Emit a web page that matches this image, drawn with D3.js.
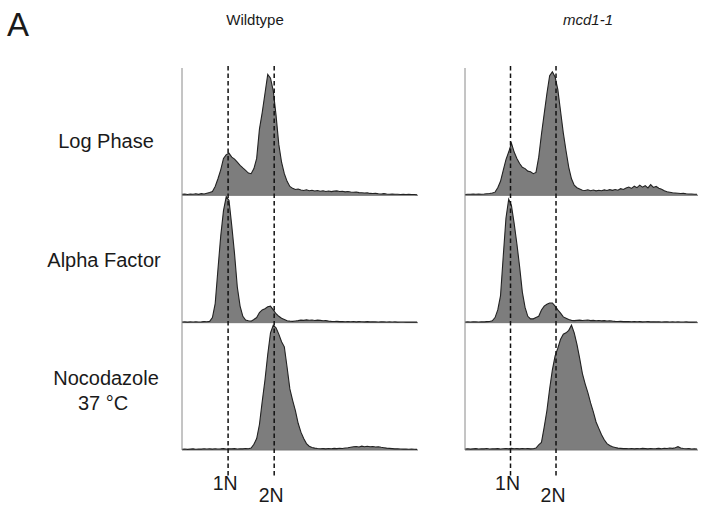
<!DOCTYPE html>
<html>
<head>
<meta charset="utf-8">
<script src="https://cdn.jsdelivr.net/npm/d3@7"></script>
<style>
  body { margin: 0; background: #fff; }
  svg { display: block; }
  text { font-family: "Liberation Sans", Arial, sans-serif; fill: #1a1a1a; }
</style>
</head>
<body>
<div id="chart"></div>
<script>
// DNA content channels (bins), 0..255 step 3
const channels = d3.range(0, 256, 3);
const rows = ["Log Phase", "Alpha Factor", "Nocodazole"];
const strains = ["Wildtype", "mcd1-1"];
const ploidy = ["1N", "2N"];
const ploidyChannel = [50, 100];

// cell counts (% of panel max) per bin
const wtLog = [0.8,1.0,0.7,1.1,0.9,1.2,0.8,1.3,1.0,1.6,
  2.2,3,7,13,20,29,32,33,30,28.5,
  26,23.5,21.5,19.6,17.5,17,21,29,52,65,
  80,95,92,82,63,40,26,17,11,7,
  5.5,4.6,5,4.2,3.8,4.4,3.6,4.0,3.4,3.8,
  3.2,3.6,3.0,3.4,2.9,3.3,3.5,3.0,3.2,2.7,
  3.0,2.6,2.4,2.6,2.1,2.0,1.8,1.9,1.5,1.4,
  1.5,1.2,1.1,1.3,1.0,0.9,1.1,0.8,0.9,0.7,
  0.8,0.6,0.8,0.6,0.7,0.5];
const wtAlpha = [0.5,0.6,0.4,0.6,0.5,0.7,0.5,0.6,0.8,0.7,
  1.0,4,15,42,68,88,99,96,76,54,
  28,13,5,2,1.5,1.2,2.5,4,8,10,
  11,12.5,13,10,7,5,3.5,2.5,1.5,1.2,
  1.0,1.3,1.6,2.0,1.8,2.2,1.9,2.1,1.7,2.0,
  1.8,1.5,1.6,1.2,1.0,0.9,1.0,0.8,0.9,0.7,
  0.8,0.7,0.9,0.6,0.8,0.7,0.6,0.8,0.6,0.7,
  0.6,0.5,0.7,0.6,0.5,0.6,0.5,0.6,0.4,0.5,
  0.5,0.4,0.5,0.4,0.5,0.4];
const wtNoco = [0.6,0.8,0.5,0.7,0.9,0.6,0.8,0.7,1.0,0.8,
  0.9,0.7,1.0,0.8,0.9,1.1,0.8,1.0,0.9,1.1,
  0.8,1.0,0.9,1.2,1.0,1.5,4.5,9,20,38,
  55,75,92,98,96,91,85,81,65,48,
  39,31,21,14,9,5,3,2,1.5,1.2,
  1.0,1.1,0.9,1.2,1.0,1.3,1.1,1.4,1.2,1.6,
  1.8,2.2,2.5,2.8,2.4,3.0,2.6,2.9,2.5,2.7,
  2.4,2.6,2.1,1.8,1.5,1.3,1.1,0.9,1.0,0.8,
  0.7,0.8,0.6,0.7,0.6,0.5];
const mcdLog = [0.7,0.9,0.8,1.0,0.8,1.1,0.9,1.0,1.2,1.4,
  1.8,2.5,6,11,19.6,28,34,41,34,29,
  25,22,21,19,18.5,17,18,30,48,64,
  80,94,97,93,83,66,49,35,22,13,
  8,6,5,4,3.8,4.4,3.6,4.2,3.5,4.0,
  3.6,4.3,3.8,4.5,3.9,4.6,4.0,5.2,4.6,5.8,
  6.5,5.4,7.2,6.0,8.0,6.4,7.6,5.8,8.4,6.2,
  7.0,5.6,4.8,3.6,2.8,2.4,2.0,1.8,1.6,1.4,
  1.5,1.2,1.1,1.0,0.9,0.8];
const mcdAlpha = [0.5,0.6,0.5,0.7,0.6,0.5,0.7,0.6,0.8,0.9,
  1.5,4,10,21,52,82,97,92,78,62,
  44,24,12,5,3,3,4,5,10,13,
  14.5,15.5,15.5,13,10,7.5,4.5,3.5,2.5,1.8,
  1.6,1.8,2.0,1.7,1.9,2.1,1.6,1.8,1.5,1.7,
  1.4,1.6,1.3,1.5,1.2,1.0,0.9,1.0,0.8,0.9,
  0.8,0.7,0.9,0.7,0.8,0.6,0.7,0.8,0.6,0.7,
  0.6,0.7,0.5,0.6,0.7,0.5,0.6,0.5,0.6,0.5,
  0.5,0.6,0.4,0.5,0.4,0.5];
const mcdNoco = [0.8,1.0,0.7,0.9,1.1,0.8,1.0,0.9,1.2,0.8,
  1.0,0.9,1.1,0.8,1.0,1.2,0.9,1.3,1.0,1.1,
  0.9,1.2,1.0,1.1,0.9,1.0,1.5,4,6,18,
  31,48,63,74,80,87,91,92,94,98,
  92,83,72,60,52,45,37,30,22,17,
  12,8,5,3.5,2.5,2.0,1.5,1.3,1.1,1.2,
  1.0,1.2,0.9,1.1,1.0,1.3,1.1,0.9,1.2,1.0,
  1.1,1.3,1.0,1.4,1.2,1.6,1.3,1.8,2.6,1.5,
  1.2,1.0,1.1,0.8,0.9,0.8];

const panels = [
  {strain: "Wildtype", row: "Log Phase", values: wtLog},
  {strain: "Wildtype", row: "Alpha Factor", values: wtAlpha},
  {strain: "Wildtype", row: "Nocodazole", values: wtNoco},
  {strain: "mcd1-1", row: "Log Phase", values: mcdLog},
  {strain: "mcd1-1", row: "Alpha Factor", values: mcdAlpha},
  {strain: "mcd1-1", row: "Nocodazole", values: mcdNoco}
];

const width = 709, height = 508;
const svg = d3.select("#chart").append("svg")
  .attr("width", width)
  .attr("height", height);

// column extents for each strain
const colRange = {"Wildtype": [182, 418], "mcd1-1": [465, 698]};
const rowY = d3.scaleBand().domain(rows).range([68, 450]).padding(0);
const y = d3.scaleLinear().domain([0, 100]).range([rowY.bandwidth(), 0]);

strains.forEach(s => {
  const x = d3.scaleLinear().domain([0, 256]).range(colRange[s]);
  const g = svg.append("g");

  // histograms
  panels.filter(p => p.strain === s).forEach(p => {
    const pg = g.append("g").attr("transform", `translate(0, ${rowY(p.row)})`);
    const pts = channels.map((c, i) => [c, p.values[i]]);
    pg.append("path")
      .datum(pts)
      .attr("fill", "#7d7d7d")
      .attr("d", d3.area().x(d => x(d[0])).y0(y(0)).y1(d => y(d[1])));
    pg.append("line")
      .attr("x1", x(0)).attr("x2", x(256))
      .attr("y1", y(0)).attr("y2", y(0))
      .attr("stroke", "#777").attr("stroke-width", 1);
    pg.append("path")
      .datum(pts)
      .attr("fill", "none")
      .attr("stroke", "#222")
      .attr("stroke-width", 1.1)
      .attr("d", d3.line().x(d => x(d[0])).y(d => y(d[1])));
  });

  // vertical axis
  g.append("line")
    .attr("x1", x(0)).attr("x2", x(0))
    .attr("y1", 68).attr("y2", 450)
    .attr("stroke", "#8a8a8a").attr("stroke-width", 1);

  // 1N / 2N dashed markers
  ploidy.forEach((lab, i) => {
    const cx = x(ploidyChannel[i]);
    g.append("line")
      .attr("x1", cx).attr("x2", cx)
      .attr("y1", 66).attr("y2", 476)
      .attr("stroke", "#111")
      .attr("stroke-width", 1.5)
      .attr("stroke-dasharray", "4.5,3")
    g.append("text")
      .attr("x", cx - 3)
      .attr("y", i === 0 ? 490 : 502)
      .attr("text-anchor", "middle")
      .style("font-size", "19.5px")
      .text(lab);
  });
});

// column titles
svg.append("text").attr("x", 255).attr("y", 25)
  .attr("text-anchor", "middle").style("font-size", "15px").text("Wildtype");
svg.append("text").attr("x", 588).attr("y", 25)
  .attr("text-anchor", "middle").style("font-size", "15px")
  .style("font-style", "italic").text("mcd1-1");

// row labels
svg.append("text").attr("x", 106).attr("y", 148)
  .attr("text-anchor", "middle").style("font-size", "20px").text("Log Phase");
svg.append("text").attr("x", 104).attr("y", 267)
  .attr("text-anchor", "middle").style("font-size", "20px").text("Alpha Factor");
svg.append("text").attr("x", 106).attr("y", 385)
  .attr("text-anchor", "middle").style("font-size", "20px").text("Nocodazole");
svg.append("text").attr("x", 103).attr("y", 410)
  .attr("text-anchor", "middle").style("font-size", "20px").text("37 °C");

// panel letter
svg.append("text").attr("x", 7).attr("y", 36)
  .style("font-size", "33px").text("A");
</script>
</body>
</html>
